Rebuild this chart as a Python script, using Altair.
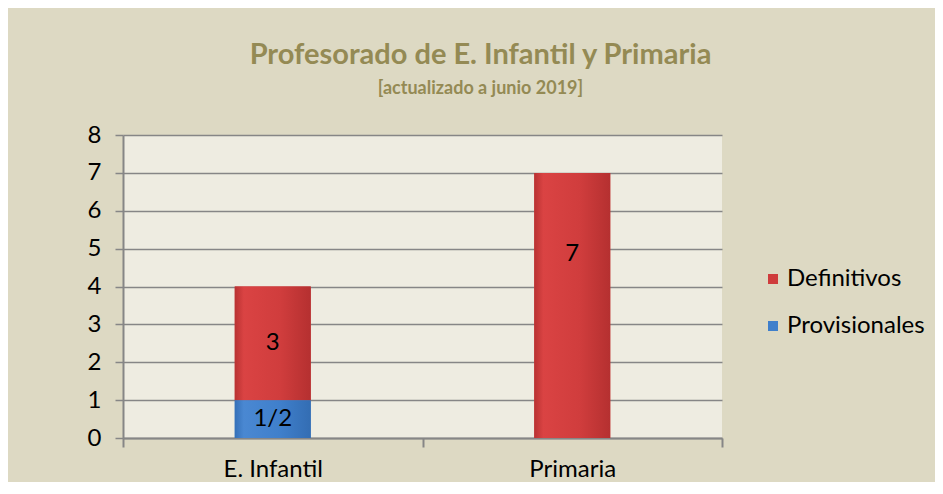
import altair as alt
import pandas as pd

categories = ["E. Infantil", "E. Infantil", "Primaria"]
series = ["Provisionales", "Definitivos", "Definitivos"]
values = [1, 3, 7]
labels = ["1/2", "3", "7"]
label_pos = [0.5, 2.5, 4.85]
stack_order = [0, 1, 1]
y_ticks = [0, 1, 2, 3, 4, 5, 6, 7, 8]

df = pd.DataFrame({
    "cat": categories,
    "serie": series,
    "valor": values,
    "etiqueta": labels,
    "pos": label_pos,
    "orden": stack_order,
})

FONT = "Lato"
GRID = "#868686"

x_axis = alt.Axis(labelAngle=0, tickBand="extent", tickSize=9, tickColor=GRID,
                  tickWidth=2, domainColor=GRID, domainWidth=2,
                  labelFontSize=24, labelColor="#000000", labelFont=FONT,
                  labelPadding=10)
y_axis = alt.Axis(values=y_ticks, tickCount=9, labelOverlap=False, grid=True,
                  gridColor=GRID, gridWidth=1.5, tickSize=8, tickColor=GRID,
                  tickWidth=1.5, domainColor=GRID, domainWidth=2, labelFontSize=24,
                  labelColor="#000000", labelFont=FONT, labelPadding=14)
x_scale = alt.Scale(domain=["E. Infantil", "Primaria"], paddingInner=0, paddingOuter=0)
y_scale = alt.Scale(domain=[0, 8], nice=False)

red_grad = {"gradient": "linear", "x1": 0, "y1": 0, "x2": 1, "y2": 0,
            "stops": [{"offset": 0, "color": "#B83232"},
                      {"offset": 0.12, "color": "#DA4343"},
                      {"offset": 0.6, "color": "#D03D3D"},
                      {"offset": 1, "color": "#B53030"}]}
blue_grad = {"gradient": "linear", "x1": 0, "y1": 0, "x2": 1, "y2": 0,
             "stops": [{"offset": 0, "color": "#3470B8"},
                       {"offset": 0.12, "color": "#4A88D2"},
                       {"offset": 0.6, "color": "#3F7FCB"},
                       {"offset": 1, "color": "#336DB3"}]}

base = alt.Chart(df)

bars = base.mark_bar(size=76).encode(
    x=alt.X("cat:N", title=None, scale=x_scale, axis=x_axis),
    y=alt.Y("valor:Q", title=None, stack="zero", scale=y_scale, axis=y_axis),
    color=alt.Color("serie:N",
                    scale=alt.Scale(domain=["Definitivos", "Provisionales"],
                                    range=["#CF3C3C", "#3F7FCB"]),
                    legend=alt.Legend(title=None, orient="none", legendX=638, legendY=132,
                                      symbolType="square", symbolSize=100,
                                      symbolStrokeWidth=0, labelFontSize=24,
                                      labelFont=FONT, labelColor="#000000",
                                      rowPadding=23, labelOffset=2)),
    order=alt.Order("orden:Q"),
)

stacked = base.transform_stack(
    stack="valor", groupby=["cat"], as_=["y0", "y1"],
    sort=[alt.SortField("orden", order="ascending")],
)

red_overlay = stacked.transform_filter("datum.serie === 'Definitivos'").mark_bar(
    size=76, color=red_grad).encode(
    x=alt.X("cat:N", title=None, scale=x_scale, axis=x_axis),
    y=alt.Y("y0:Q", title=None, scale=y_scale, axis=y_axis),
    y2="y1:Q",
)
blue_overlay = stacked.transform_filter("datum.serie === 'Provisionales'").mark_bar(
    size=76, color=blue_grad).encode(
    x=alt.X("cat:N", title=None, scale=x_scale, axis=x_axis),
    y=alt.Y("y0:Q", title=None, scale=y_scale, axis=y_axis),
    y2="y1:Q",
)

text = base.mark_text(fontSize=24, font=FONT, color="#000000").encode(
    x=alt.X("cat:N", title=None, scale=x_scale, axis=x_axis),
    y=alt.Y("pos:Q", title=None, scale=y_scale, axis=y_axis),
    text="etiqueta:N",
)

chart = alt.layer(bars, red_overlay, blue_overlay, text).properties(
    width=599,
    height=303,
    background="#DDD9C3",
    autosize=alt.AutoSizeParams(type="none"),
    padding={"left": 115, "top": 127, "right": 213, "bottom": 44},
    title=alt.TitleParams(
        text="Profesorado de E. Infantil y Primaria",
        subtitle="[actualizado a junio 2019]",
        anchor="middle",
        dx=58,
        offset=25,
        font=FONT,
        fontSize=29,
        fontWeight="bold",
        color="#948A54",
        subtitleFont=FONT,
        subtitleFontSize=18,
        subtitleFontWeight="bold",
        subtitleColor="#948A54",
        subtitlePadding=10,
    ),
).configure_view(fill="#EEECE1", stroke=None)

chart.save("out.html", embed_options={"renderer": "svg", "actions": False})
